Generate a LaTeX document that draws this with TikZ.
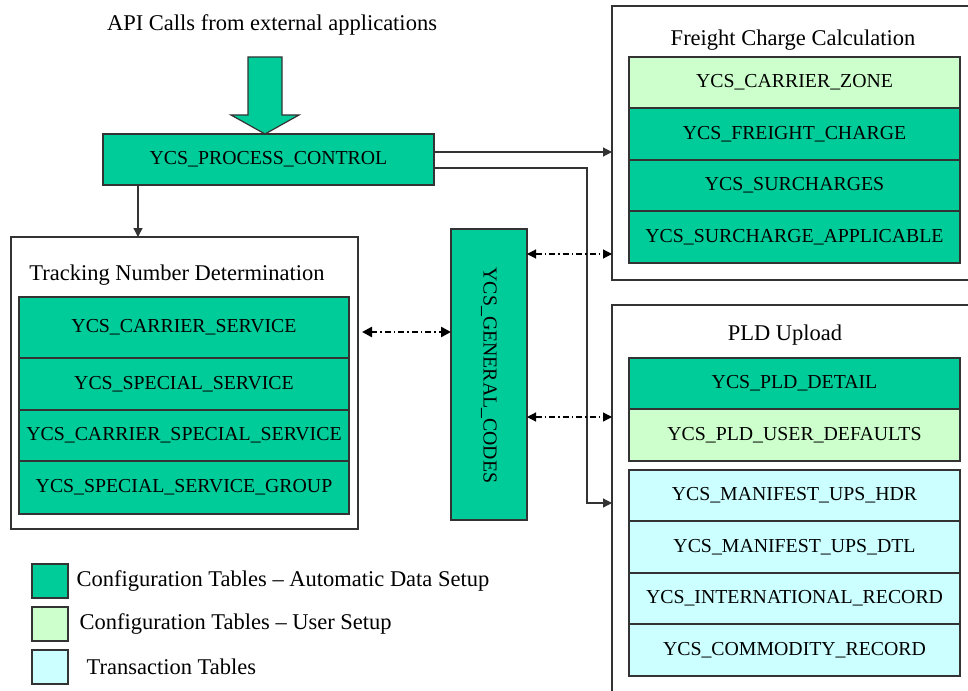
\documentclass[tikz,border=0pt]{standalone}
\usepackage{fontspec}
\setmainfont{Liberation Serif}
\usepackage{tikz}
\usetikzlibrary{arrows.meta,calc}

\definecolor{autogreen}{HTML}{00CC99}
\definecolor{usergreen}{HTML}{CCFFCC}
\definecolor{transcyan}{HTML}{CCFFFF}
\definecolor{edgegray}{HTML}{333333}

\tikzset{
  tbl/.style={draw=edgegray, line width=1.2pt, anchor=north west, inner sep=0pt, outer sep=0pt,
    font=\fontsize{19.8}{23}\selectfont},
  grp/.style={draw=edgegray, line width=1.2pt, anchor=north west, inner sep=0pt, outer sep=0pt},
  ttl/.style={font=\fontsize{22.5}{26}\selectfont},
  tip/.style={-{Triangle[length=9pt,width=9pt]}},
  dashdot/.style={dash pattern=on 6pt off 3pt on 1.5pt off 3pt}
}

\begin{document}
\begin{tikzpicture}[x=1pt, y=-1pt, line width=1.2pt]

\clip (0,0) rectangle (968,690);

% Top label and the big arrow
\node[ttl] (api) at (272,25) {API Calls from external applications};
\node[tbl, fill=autogreen, minimum width=331, minimum height=51] (pc) at (103,134) {YCS\_PROCESS\_CONTROL};
\draw[edgegray, fill=autogreen] ([xshift=-3.5pt]pc.north) -- ++(-34,-19) -- ++(17,0) -- ++(0,-58)
  -- ++(34,0) -- ++(0,58) -- ++(17,0) -- cycle;

% Tracking Number Determination
\node[grp, minimum width=347, minimum height=292] (trkbox) at (11,237) {};
\node[ttl] (trkttl) at (177,275) {Tracking Number Determination};
\foreach \name/\y/\h/\txt in {trk1/297/61/YCS\_CARRIER\_SERVICE, trk2/358/52/YCS\_SPECIAL\_SERVICE,
    trk3/410/51/YCS\_CARRIER\_SPECIAL\_SERVICE, trk4/461/53/YCS\_SPECIAL\_SERVICE\_GROUP}
  \node[tbl, fill=autogreen, minimum width=330, minimum height=\h] (\name) at (19,\y) {\txt};

% General codes
\node[tbl, fill=autogreen, minimum width=76, minimum height=291] (gc) at (451,229) {};
\node[rotate=-90, font=\fontsize{19.8}{23}\selectfont] (gctxt) at ([xshift=0pt,yshift=-1pt]gc.center) {YCS\_GENERAL\_CODES};

% Freight Charge Calculation
\node[grp, minimum width=400, minimum height=274] (frtbox) at (612,6) {};
\node[ttl] (frtttl) at (793,40) {Freight Charge Calculation};
\node[tbl, fill=usergreen, minimum width=331, minimum height=51] (frt1) at (629,57) {YCS\_CARRIER\_ZONE};
\foreach \name/\y/\h/\txt in {frt2/108/52/YCS\_FREIGHT\_CHARGE, frt3/160/51/YCS\_SURCHARGES,
    frt4/211/52/YCS\_SURCHARGE\_APPLICABLE}
  \node[tbl, fill=autogreen, minimum width=331, minimum height=\h] (\name) at (629,\y) {\txt};

% PLD Upload
\node[grp, minimum width=400, minimum height=400] (pldbox) at (612,305) {};
\node[ttl] (pldttl) at (785,335) {PLD Upload};
\node[tbl, fill=autogreen, minimum width=331, minimum height=51] (pld1) at (629,358) {YCS\_PLD\_DETAIL};
\node[tbl, fill=usergreen, minimum width=331, minimum height=52] (pld2) at (629,409) {YCS\_PLD\_USER\_DEFAULTS};
\foreach \name/\y/\h/\txt in {man1/470/51/YCS\_MANIFEST\_UPS\_HDR, man2/521/52/YCS\_MANIFEST\_UPS\_DTL,
    man3/573/51/YCS\_INTERNATIONAL\_RECORD, man4/624/52/YCS\_COMMODITY\_RECORD}
  \node[tbl, fill=transcyan, minimum width=331, minimum height=\h] (\name) at (629,\y) {\txt};

% Connectors from the process control
\draw[tip, edgegray] ([yshift=7.5pt]pc.east) -- ([yshift=7.5pt]pc.east -| frtbox.west);
\coordinate (bend) at (587,503);
\draw[tip, edgegray] ([yshift=-8.5pt]pc.east) -| (bend) -- (bend -| pldbox.west);
\draw[tip, edgegray] ([xshift=35pt]pc.south west) -- ([xshift=35pt]pc.south west |- trkbox.north);

% Links to the general codes
\coordinate (gcl) at ([yshift=42.5pt]gc.west);
\draw[dashdot, line width=2.4pt, {Triangle[length=10pt,width=10pt]}-{Triangle[length=10pt,width=10pt]}]
  ([xshift=4pt]gcl -| trkbox.east) -- (gcl);
\draw[dashdot, {Triangle[length=9pt,width=9pt]}-{Triangle[length=9pt,width=9pt]}]
  ([yshift=120.5pt]gc.east) -- ([yshift=120.5pt]gc.east -| frtbox.west);
\draw[dashdot, {Triangle[length=9pt,width=9pt]}-{Triangle[length=9pt,width=9pt]}]
  ([yshift=-42.5pt]gc.east) -- ([yshift=-42.5pt]gc.east -| pldbox.west);

% Legend
\foreach \name/\y/\col/\gap/\txt in {leg1/564/autogreen/8/Configuration Tables -- Automatic Data Setup,
    leg2/607/usergreen/11/Configuration Tables -- User Setup, leg3/650/transcyan/18/Transaction Tables}
{
  \node[grp, fill=\col, minimum width=36, minimum height=34] (\name) at (32,\y) {};
  \node[ttl, anchor=west, inner sep=0pt] (\name txt) at ([xshift=\gap pt]\name.east) {\txt};
}

\end{tikzpicture}
\end{document}
